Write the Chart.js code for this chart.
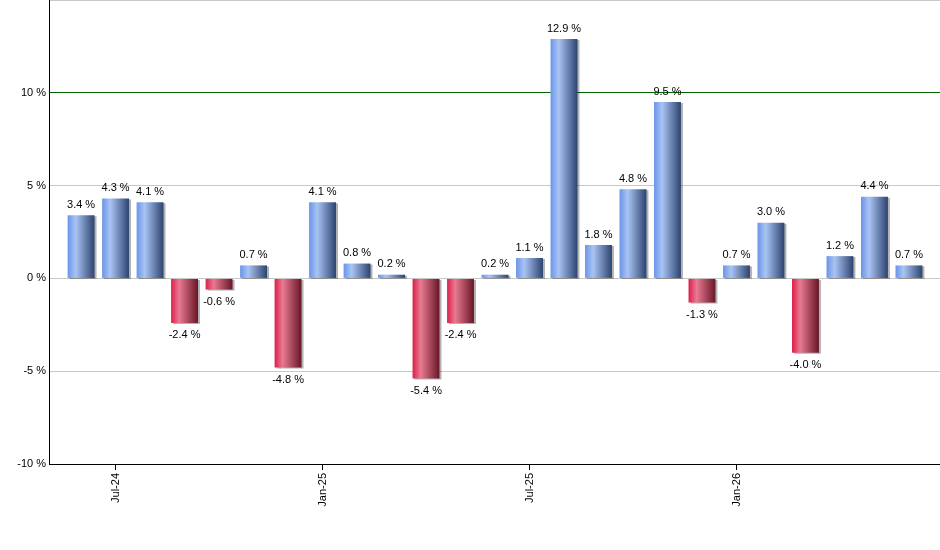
<!DOCTYPE html>
<html>
<head>
<meta charset="utf-8">
<script src="https://cdn.jsdelivr.net/npm/chart.js@4.4.0/dist/chart.umd.min.js"></script>
<style>
  html, body { margin: 0; padding: 0; background: #fff; }
  #wrap { width: 940px; height: 550px; }
</style>
</head>
<body>
<div id="wrap"><canvas id="returnsChart"></canvas></div>
<script>
const months = ['Jun-24', 'Jul-24', 'Aug-24', 'Sep-24', 'Oct-24', 'Nov-24', 'Dec-24',
  'Jan-25', 'Feb-25', 'Mar-25', 'Apr-25', 'May-25', 'Jun-25', 'Jul-25', 'Aug-25',
  'Sep-25', 'Oct-25', 'Nov-25', 'Dec-25', 'Jan-26', 'Feb-26', 'Mar-26', 'Apr-26',
  'May-26', 'Jun-26'];
const returns = [3.4, 4.3, 4.1, -2.4, -0.6, 0.7, -4.8, 4.1, 0.8, 0.2, -5.4, -2.4, 0.2,
  1.1, 12.9, 1.8, 4.8, 9.5, -1.3, 0.7, 3.0, -4.0, 1.2, 4.4, 0.7];
const shownMonths = ['Jul-24', 'Jan-25', 'Jul-25', 'Jan-26'];

// gradient fill + drop shadow for each bar
const barStyle = {
  id: 'barStyle',
  beforeDatasetsDraw(chart) {
    const ctx = chart.ctx;
    chart.getDatasetMeta(0).data.forEach((bar, i) => {
      const left = bar.x - bar.width / 2;
      const g = ctx.createLinearGradient(left, 0, left + bar.width, 0);
      if (returns[i] >= 0) {
        g.addColorStop(0, '#6a94e8');
        g.addColorStop(0.3, '#a9c4f4');
        g.addColorStop(1, '#2d436f');
      } else {
        g.addColorStop(0, '#dc1f48');
        g.addColorStop(0.3, '#e87a92');
        g.addColorStop(1, '#681626');
      }
      bar.options.backgroundColor = g;
    });
    ctx.save();
    ctx.shadowColor = 'rgba(0,0,0,0.3)';
    ctx.shadowOffsetX = 2;
    ctx.shadowOffsetY = 1;
    ctx.shadowBlur = 0;
  },
  afterDatasetsDraw(chart) {
    const ctx = chart.ctx;
    ctx.restore();
    ctx.save();
    ctx.font = '11px "Liberation Sans", Arial, sans-serif';
    ctx.fillStyle = '#000';
    ctx.textAlign = 'center';
    chart.getDatasetMeta(0).data.forEach((bar, i) => {
      const v = returns[i];
      const txt = v.toFixed(1) + ' %';
      if (v >= 0) {
        ctx.textBaseline = 'bottom';
        ctx.fillText(txt, bar.x, bar.y - 5);
      } else {
        ctx.textBaseline = 'top';
        ctx.fillText(txt, bar.x, bar.y + 7);
      }
    });
    ctx.restore();
  }
};

const ctx = document.getElementById('returnsChart').getContext('2d');
new Chart(ctx, {
  type: 'bar',
  data: {
    datasets: [{
      data: returns.map((v, i) => ({ x: i, y: v })),
      backgroundColor: c => (c.raw && c.raw.y < 0 ? '#c0304f' : '#5577bb'),
      barPercentage: 0.78,
      categoryPercentage: 1
    }]
  },
  options: {
    responsive: true,
    maintainAspectRatio: false,
    animation: false,
    layout: { padding: 0 },
    plugins: { legend: { display: false }, tooltip: { enabled: false } },
    scales: {
      x: {
        type: 'linear',
        offset: false,
        min: -0.93,
        max: 24.9,
        afterBuildTicks: s => { s.ticks = shownMonths.map(m => ({ value: months.indexOf(m) })); },
        afterFit: s => { s.height = 86; s.paddingLeft = 0; s.paddingRight = 0; },
        ticks: {
          autoSkip: false,
          minRotation: 90,
          maxRotation: 90,
          padding: 3,
          color: '#000',
          font: { family: '"Liberation Sans", Arial, sans-serif', size: 11 },
          callback: v => months[v]
        },
        grid: { offset: false, drawOnChartArea: false, drawTicks: true, tickLength: 6, color: '#000' },
        border: { color: '#000', width: 1 }
      },
      y: {
        min: -10,
        max: 15,
        afterFit: s => { s.width = 49; s.paddingTop = 0; s.paddingBottom = 0; },
        ticks: {
          stepSize: 5,
          padding: 3,
          color: '#000',
          font: { family: '"Liberation Sans", Arial, sans-serif', size: 11 },
          callback: v => (v === 15 ? '' : v + ' %')
        },
        grid: {
          drawTicks: false,
          color: c => (c.tick.value === 10 ? '#006400' : c.tick.value === -10 ? '#000' : '#c8c8c8')
        },
        border: { color: '#000', width: 1 }
      }
    }
  },
  plugins: [barStyle]
});
</script>
</body>
</html>
